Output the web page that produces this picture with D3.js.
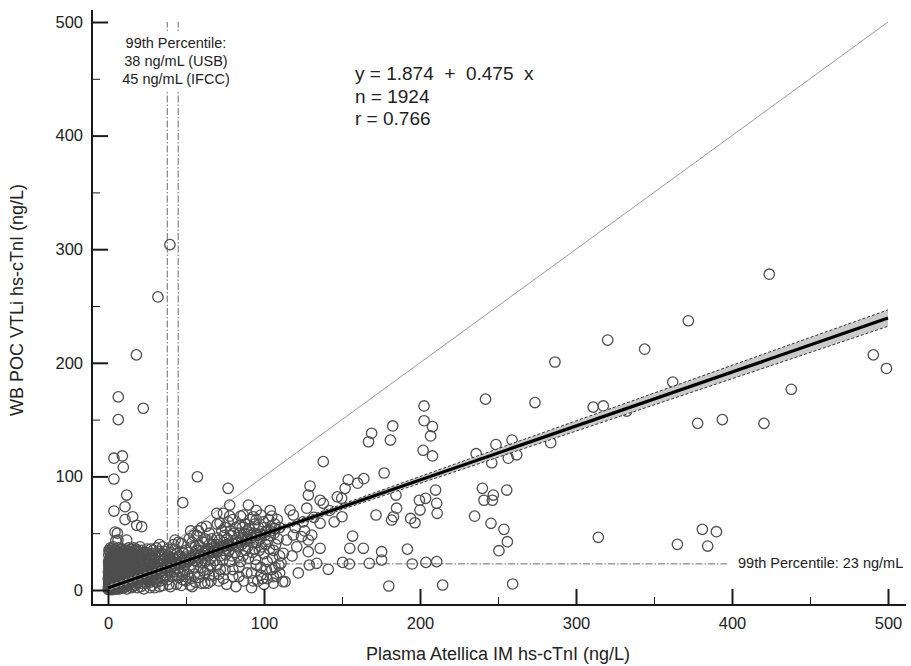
<!DOCTYPE html>
<html><head><meta charset="utf-8">
<script src="https://cdn.jsdelivr.net/npm/d3@7"></script>
<style>
body{margin:0;background:#fff}
svg{display:block}
text{font-family:"Liberation Sans",Arial,Helvetica,sans-serif;fill:#222}
</style>
</head><body>
<svg id="c" width="911" height="666"></svg>
<script>
// ---------- data ----------
const xTicks = [0, 100, 200, 300, 400, 500];
const yTicks = [0, 100, 200, 300, 400, 500];
const minorTicks = [50, 150, 250, 350, 450];
const fitIntercept = 1.874, fitSlope = 0.475;
const bandX    = [0, 50, 100, 150, 200, 250, 300, 350, 400, 450, 500];
const bandHalf = [2.6, 2.0, 1.9, 2.3, 3.0, 3.8, 4.5, 5.2, 5.9, 6.6, 7.2];
const usbLimit = 38, ifccLimit = 45, wbLimit = 23;
const eqLines = ["y = 1.874  +  0.475  x", "n = 1924", "r = 0.766"];
const pctLines = ["99th Percentile:", "38 ng/mL (USB)", "45 ng/mL (IFCC)"];
const wbLabel = "99th Percentile: 23 ng/mL";

// dense low-concentration cluster
const clusterA = [[0.5,1],[1,2],[1.5,0.5],[2,3],[0.8,4],[1.2,6],[2.5,1.5],[3,4],[3.5,2],[4,5],[4.5,1],[0.5,8],[1,10],[2,12],[3,9],[4,11],[1.5,14],[2.5,16],[3.5,13],[4.5,15],[0.8,18],[2,20],[3,22],[4,19],[1,24],[2.5,26],[4,24],[1.5,29],[3,31],[4.5,28],[2,33],[4,35],[0.5,12],[3.2,6.5],[1.8,7.5],[4.8,8],[0.3,3],[2.2,0.3],[3.8,0.8],[4.2,3],[0.6,15],[1.4,21],[3.3,17],[0.9,27],[2.8,11]];
const clusterB = [[5.5,2],[6,5],[7,1],[7.5,8],[8,4],[9,11],[9.5,2.5],[10,6],[11,14],[11.5,3],[12,9],[13,17],[13.5,5],[14,12],[15,2],[15.5,20],[16,8],[17,15],[17.5,4],[18,11],[19,24],[19.5,7],[5,13],[6,18],[7,22],[8,27],[9,31],[10,19],[11,25],[12,30],[13,34],[14,22],[15,27],[16,31],[17,35],[18,19],[19,29],[20,33],[6.5,10],[8.5,15],[10.5,12],[12.5,22],[14.5,17],[16.5,24],[18.5,14],[7,29],[10,35],[6,34],[15,36],[5.5,25],[8,1.5],[12,1],[16,3],[19,2],[6,8],[9,7],[13,10]];
const clusterC = [[21,3],[22,10],[23,18],[24,6],[25,14],[26,22],[27,2],[28,11],[29,27],[30,17],[31,7],[32,24],[33,31],[34,13],[35,4],[36,20],[37,28],[38,9],[39,16],[40,33],[21,28],[23,33],[25,36],[27,30],[29,35],[31,37],[24,25],[28,20],[32,14],[36,34],[38,24],[22,21],[26,8],[30,2],[34,26],[39,5],[35,38],[20,15],[33,20],[37,12],[23,1],[28,4],[33,3]];
const coreExtra = [[0.2,0.5],[0.7,2.5],[1.1,1.2],[1.6,3.5],[2.1,5],[2.6,2.2],[3.1,0.6],[3.6,3.8],[4.1,6.5],[4.6,2.8],[5.1,4.2],[5.6,6.8],[6.1,1],[6.6,3.2],[7.1,5.5],[7.6,2.2],[8.1,6.8],[8.6,9],[9.1,4.5],[9.6,8.2],[10.1,2],[10.6,9.5],[11.1,7],[11.6,11],[12.1,5.5],[12.6,13],[13.1,8],[13.6,14.5],[14.1,6],[14.6,10],[15.1,12.5],[15.6,5],[16.1,10.5],[16.6,14],[17.1,9],[17.6,12],[18.1,16],[18.6,6.5],[19.1,11.5],[19.6,17],[20.1,9],[20.6,13],[21.1,6],[21.6,16],[22.1,12],[22.6,19],[23.1,8],[23.6,14],[24.1,11],[24.6,17],[25.1,9],[25.6,19],[26.1,13],[26.6,16],[27.1,7],[27.6,21],[28.1,15],[28.6,9],[29.1,18],[29.6,12],
  [0.4,6],[0.9,9],[1.4,11],[1.9,9.5],[2.4,7],[2.9,13.5],[3.4,10.5],[3.9,8],[4.4,13],[4.9,10.5],[5.4,8],[5.9,12],[6.4,14],[6.9,16],[7.4,12],[7.9,19],[8.4,21],[8.9,17.5],[9.4,14],[9.9,23],[10.4,27],[10.9,21],[11.4,18],[11.9,27],[12.4,16],[12.9,25],[13.4,20],[13.9,28],[14.4,24],[14.9,31],[15.4,15],[15.9,22],[16.4,19],[16.9,28],[17.4,22],[17.9,26],[18.4,31],[18.9,20],[19.4,27],[20.4,24],[20.9,30],[21.4,21],[22.4,26],[23.4,23],[24.4,29],[25.4,25],[26.4,31],[27.4,26],[28.4,32],[29.4,23],
  [0.3,16],[0.7,20],[1.2,23],[1.7,17],[2.2,25],[2.7,19],[3.2,27],[3.7,21],[4.2,30],[4.7,23],[5.2,19],[5.7,29],[6.2,22],[6.7,26],[7.2,32],[7.7,24],[8.2,33],[8.7,29],[9.2,26],[9.7,34],[0.5,31],[1.1,34],[2.6,36],[3.6,33],[5.1,35],[6.7,37],[8.1,36],[11.5,33],[13.2,37],[16.5,37],[18.8,34],[21.5,35],[24.5,33],[27.5,36],[30.5,30],[32.5,34],[34.5,32],[36.5,31],[38.5,36],[39.5,29],
  [0.5,5],[1.5,6],[2.5,9],[3.5,7],[0.5,22],[1.5,26],[2.5,29],[3.5,24],[4.5,33],[5.5,30],[6.5,20],[7.5,27],[8.5,25],[9.5,30],[10.5,32],[11.5,29],[12.5,33],[14,34],[16,33],[18,36],[20,30],[22,33],[25,31],[28,29],[32,30],[36,27],[40,27],[0.2,10],[0.4,25],[0.6,35],[1.6,37],[3.5,38]];
// points lying close to the fitted line in the low range
const alongLine = [[1,3],[2,2],[3,4],[4,3],[5,5],[6,4],[7,6],[8,5],[9,7],[10,6],[11,8],[12,7],[13,9],[14,8],[15,10],[16,9],[17,11],[18,10],[19,12],[20,11],[21,13],[22,12],[23,14],[24,13],[25,15],[26,14],[27,16],[28,15],[29,17],[30,16],[32,18],[34,17],[36,19],[38,20],[40,22],[42,21],[44,23],[46,24],[48,26],[50,25],[52,27],[54,28],[56,30],[58,29],[60,31],[62,32],[64,34],[66,33],[68,35],[70,36],[72,37],[74,38],[76,40],[78,39],[80,41],[83,42],[86,44],[89,45],[92,46],[95,48],[98,49],[101,51],[104,52],[107,54],[110,55]];
const clusterD = [[41,12],[42,25],[43,36],[44,5],[45,19],[46,30],[47,41],[48,9],[49,22],[50,35],[51,14],[52,45],[53,28],[54,3],[55,20],[56,38],[57,48],[58,11],[59,30],[60,24],[61,42],[62,6],[63,35],[64,18],[65,50],[66,28],[67,40],[68,13],[69,33],[70,46],[42,40],[46,16],[50,8],[54,42],[58,52],[62,45],[66,8],[44,32],[48,28],[52,19],[56,26],[60,55],[64,30],[68,38],[70,22],[53,52],[57,35],[61,17],[65,40],[47,4],[52.6,4.4],[60,5.9],[64,6]];
const clusterE = [[71,8],[72,30],[73,52],[74,42],[75,18],[76,36],[77,60],[78,25],[79,48],[80,12],[81,40],[82,55],[83,30],[84,20],[85,65],[86,45],[87,8],[88,35],[89,52],[90,28],[91,62],[92,15],[93,42],[94,58],[95,22],[96,48],[97,35],[98,66],[99,10],[100,55],[101,40],[102,25],[103,62],[104,48],[105,18],[106,35],[107,58],[108,12],[109,45],[110,30],[75,55],[80,62],[85,25],[90,45],[95,62],[100,32],[105,65],[72,18],[78,40],[84,50],[88,58],[94,36],[98,20],[102,52],[106,6],[76,5],[82,3],[92,2],[100,5],[96,8],[106,11.7],[112,7.3]];
const bandExtra = [[30.5,20],[31.5,10],[32.5,19],[33.5,8],[34.5,17],[35.5,23],[36.5,13],[37.5,22],[38.5,17],[39.5,25],[40.5,20],[41.5,28],[42.5,16],[43.5,24],[44.5,29],[45.5,11],[46.5,23],[47.5,33],[48.5,18],[49.5,29],[50.5,24],[51.5,33],[52.5,26],[53.5,38],[54.5,31],[55.5,14],[56.5,32],[57.5,25],[58.5,39],[59.5,20],[60.5,35],[61.5,30],[62.5,25],[63.5,44],[64.5,36],[65.5,22],[66.5,45],[67.5,33],[68.5,26],[69.5,40],[70.5,35],[71.5,44],[72.5,38],[73.5,26],[74.5,48],[75.5,31],[76.5,45],[77.5,35],[78.5,52],[79.5,30],[80.5,50],[81.5,33],[82.5,44],[83.5,38],[84.5,57],[85.5,40],[86.5,30],[87.5,50],[88.5,43],[89.5,38],[90.5,54],[91.5,48],[92.5,33],[93.5,50],[94.5,27],[95.5,42],[96.5,55],[97.5,45],[98.5,38],[99.5,60],[100.5,48],[101.5,18],[102.5,43],[103.5,36],[104.5,56],[105.5,28],[106.5,50],[107.5,40],[108.5,62],[109.5,22],[33,40],[45,42],[55,48],[63,56],[70,58],[78,65],[86,55],[95,70],[104,70],[40,3],[48,14],[56,7],[65,13],[74,10],[84,12],[93,8],[102,10],[110,15],[35,10],[44,13],[53,10],[62,15],[71,14],[80,18],[89,15],[98,13],[107,20]];
// scattered points above the cluster, left of x = 100
const leftHigh = [[39.7,304],[32,258],[18.2,207],[6.6,170],[22.6,160],[6.6,150],[3.8,116],[9.2,118],[9.8,108],[3.8,97.7],[12,83.6],[57.3,99.7],[77,89.5],[3.8,69.5],[10.9,73.3],[15.8,64.5],[10.9,62],[18.4,57],[21.6,55.7],[47.9,76.9],[6,50],[12,44],[5,43.4],[20.5,38],[69.7,67.5],[74,67.5],[78,74.8],[90,74.8],[71.8,58.7],[86.7,66],[93,64.5],[43,44],[4.5,51],[6.4,44]];
// middle range points
const midPoints = [[202.6,162],[202.6,149],[208,143.8],[206.8,135.6],[202,123],[208,118],[182.5,144.4],[181,132],[169,138],[167,130.5],[138,113],[177,103],[164,98],[160,94],[154,97],[152,89.5],[129.5,91.5],[128.4,83.6],[149.8,80.7],[147,82],[138,76.3],[136,79],[127.4,72],[116.7,70.4],[118.8,66],[150,64.5],[171.8,66],[185,72],[183,64.5],[181.8,61.6],[194,63],[196.8,59.2],[200,70.4],[199.6,79],[203.6,80.7],[210,88],[210.7,76.3],[211,67.5],[184.6,83.6],[236,120],[248.7,128],[246,112],[259,132],[256.6,116],[262,119],[283.8,129.7],[240,89.5],[241,79],[247,83.6],[246.4,79],[255.6,88],[235,65],[245.5,58.7],[253.8,53.4],[256,42.5],[250.6,34.6],[156.8,47.5],[155,36.7],[163.7,36.7],[136,36.7],[128.4,33.7],[175.4,33.7],[191.9,36],[175.4,26.4],[167.5,23.5],[154.7,22.9],[150.4,24.3],[141.2,18.2],[133.8,23.5],[129,22],[195,22.9],[203.8,24.3],[210.7,25],[180,3.5],[214.5,4.4],[259.4,5.3],[113.5,7.3],[112.4,32.3],[121,38],[128.4,44],[124,47],[118.8,48.4],[130.6,48.4],[136,58.7],[114.5,44],[111,23.5],[242,168],[273.7,165],[120,55],[125,60],[132,64],[142,70],[145,60],[118,30],[122,15],[126,52]];
// high range points
const highPoints = [[423.9,278],[372,237],[320.3,220],[344,212],[490.6,207],[499,195],[362,183],[438,176.7],[311,161],[317.5,162],[332.5,157.5],[378,146.7],[393.8,150],[420.5,146.7],[286.5,200.7],[314.3,46.4],[365,40.2],[381,53.4],[390,51.3],[384.4,38.7]];

const points = [].concat(clusterA, clusterB, clusterC, coreExtra, alongLine, clusterD, clusterE, bandExtra, leftHigh, midPoints, highPoints);

// ---------- drawing ----------
const svg = d3.select("#c");
const x = d3.scaleLinear().domain([0, 500]).range([108, 888]);
const y = d3.scaleLinear().domain([0, 500]).range([590, 22]);
const spineX = 92, spineY = 605;
const ink = "#1a1a1a";

// identity line
svg.append("line")
  .attr("x1", x(0)).attr("y1", y(0)).attr("x2", x(500)).attr("y2", y(500))
  .attr("stroke", "#9a9a9a").attr("stroke-width", 1);

// percentile reference lines
const dashDot = "7,2,1.5,2";
[usbLimit, ifccLimit].forEach(v => {
  svg.append("line")
    .attr("x1", x(v)).attr("x2", x(v)).attr("y1", y(0)).attr("y2", y(500))
    .attr("stroke", "#6a6a6a").attr("stroke-width", 1).attr("stroke-dasharray", dashDot);
});
svg.append("line")
  .attr("x1", x(0)).attr("x2", 727).attr("y1", y(wbLimit)).attr("y2", y(wbLimit))
  .attr("stroke", "#6a6a6a").attr("stroke-width", 1).attr("stroke-dasharray", dashDot);

// points
svg.append("g").selectAll("circle").data(points).join("circle")
  .attr("cx", d => x(d[0])).attr("cy", d => y(d[1])).attr("r", 5.2)
  .attr("fill", "none").attr("stroke", "#4e4e4e").attr("stroke-width", 1.3);

// confidence band
const bandData = bandX.map((v, i) => ({x: v, f: fitIntercept + fitSlope * v, h: bandHalf[i]}));
svg.append("path").datum(bandData)
  .attr("d", d3.area().x(d => x(d.x)).y0(d => y(d.f - d.h)).y1(d => y(d.f + d.h)))
  .attr("fill", "#c4c4c4").attr("opacity", 0.9);
[1, -1].forEach(s => {
  svg.append("path").datum(bandData)
    .attr("d", d3.line().x(d => x(d.x)).y(d => y(d.f + s * d.h)))
    .attr("fill", "none").attr("stroke", "#333").attr("stroke-width", 1)
    .attr("stroke-dasharray", "3,2");
});
// regression line
svg.append("line")
  .attr("x1", x(0)).attr("y1", y(fitIntercept))
  .attr("x2", x(500)).attr("y2", y(fitIntercept + fitSlope * 500))
  .attr("stroke", "#000").attr("stroke-width", 3.2);

// percentile annotation (top-left), with white backing
svg.append("rect").attr("x", 116).attr("y", 31).attr("width", 124).attr("height", 61).attr("fill", "#fff");
svg.append("text").attr("x", 176).attr("y", 48).attr("text-anchor", "middle")
  .style("font-size", "14.5px")
  .selectAll("tspan").data(pctLines).join("tspan")
  .attr("x", 176).attr("dy", (d, i) => i ? 18 : 0).text(d => d);

// equation
svg.append("text").attr("x", 355).attr("y", 80)
  .style("font-size", "19px")
  .selectAll("tspan").data(eqLines).join("tspan")
  .attr("x", 355).attr("dy", (d, i) => i ? 22.5 : 0).attr("xml:space", "preserve")
  .style("white-space", "pre").text(d => d);

// WB percentile label
svg.append("text").attr("x", 738).attr("y", 568).style("font-size", "14.5px").text(wbLabel);

// axes spines
svg.append("line").attr("x1", spineX).attr("x2", spineX).attr("y1", 10).attr("y2", spineY + 1)
  .attr("stroke", ink).attr("stroke-width", 2);
svg.append("line").attr("x1", spineX - 1).attr("x2", 906).attr("y1", spineY).attr("y2", spineY)
  .attr("stroke", ink).attr("stroke-width", 2);

function styleAxis(g, w) {
  g.select(".domain").remove();
  g.selectAll(".tick line").attr("stroke", ink).attr("stroke-width", w);
  g.selectAll(".tick text").style("font-size", "16.5px").attr("fill", "#222")
    .style("font-family", '"Liberation Sans", Arial, sans-serif');
}
// y axis
svg.append("g").attr("transform", `translate(${spineX},0)`)
  .call(d3.axisLeft(y).tickValues(yTicks).tickSize(-16).tickPadding(9))
  .call(g => styleAxis(g, 2));
svg.append("g").attr("transform", `translate(${spineX},0)`)
  .call(d3.axisLeft(y).tickValues(minorTicks).tickSize(-8).tickFormat(""))
  .call(g => styleAxis(g, 1));
// x axis
svg.append("g").attr("transform", `translate(0,${spineY})`)
  .call(d3.axisBottom(x).tickValues(xTicks).tickSize(-16).tickPadding(12))
  .call(g => styleAxis(g, 2));
svg.append("g").attr("transform", `translate(0,${spineY})`)
  .call(d3.axisBottom(x).tickValues(minorTicks).tickSize(-8).tickFormat(""))
  .call(g => styleAxis(g, 1));

// axis titles
svg.append("text").attr("x", 498).attr("y", 660).attr("text-anchor", "middle")
  .style("font-size", "18px").text("Plasma Atellica IM hs-cTnI (ng/L)");
svg.append("text").attr("transform", "translate(23,300) rotate(-90)").attr("text-anchor", "middle")
  .style("font-size", "18px").text("WB POC VTLi hs-cTnI (ng/L)");
</script>
</body></html>
